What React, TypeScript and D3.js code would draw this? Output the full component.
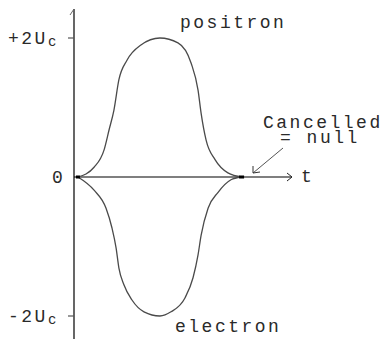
import React from "react";
import * as d3 from "d3";

// time axis in arbitrary units, amplitude in units of Uc
const positronT = [1.8, 9.2, 13.8, 16.1, 18.3, 20.6, 24.3, 30.7, 39.4, 47.7, 53.7, 56.9, 58.3, 60.6, 64.7, 70.6, 77.1];
const positronV = [0, 0.14, 0.39, 0.68, 0.96, 1.4, 1.68, 1.9, 2.0, 1.93, 1.64, 1.25, 0.92, 0.53, 0.25, 0.06, 0];

const electronT = [1.8, 9.2, 14.7, 17.4, 19.3, 20.6, 22.9, 26.6, 32.1, 39.4, 44.5, 50.9, 54.6, 56.9, 58.3, 61.5, 66.1, 72.0, 76.6];
const electronV = [0, -0.19, -0.45, -0.73, -1.02, -1.31, -1.55, -1.77, -1.94, -2.0, -1.94, -1.74, -1.45, -1.12, -0.84, -0.45, -0.22, -0.04, 0];

const yTickValues = [2, 0, -2];
const yTickLabels = ["+2U", "0", "-2U"];
const yTickSubs = ["c", "", "c"];

const seriesNames = ["positron", "electron"];
const nullNote = ["Cancelled", "= null"];

const width = 383;
const height = 339;
const font = "'Liberation Mono', 'DejaVu Sans Mono', monospace";
const fs = 18;
const ls = 2.5; // wider spacing like a thin courier face
const ink = "#2a2a2a";

export default function App() {
  const x = d3.scaleLinear().domain([0, 100]).range([74, 292]);
  const y = d3.scaleLinear().domain([-2, 2]).range([316, 38]);

  const line = d3
    .line<[number, number]>()
    .x(d => x(d[0]))
    .y(d => y(d[1]))
    .curve(d3.curveMonotoneX);

  const pos = positronT.map((t, i) => [t, positronV[i]] as [number, number]);
  const ele = electronT.map((t, i) => [t, electronV[i]] as [number, number]);

  const x0 = x(0);
  const y0 = y(0);
  const xEnd = x(100);
  const last = pos[pos.length - 1];

  return (
    <svg
      width={width}
      height={height}
      style={{ position: "absolute", left: 0, top: 0, background: "#fff" }}
      fontFamily={font}
      fontSize={fs}
      letterSpacing={ls}
    >
      {/* y axis */}
      <line x1={x0} x2={x0} y1={9} y2={height} stroke="#000" strokeWidth={1.2} />
      <line x1={x0} x2={x0 - 4} y1={9} y2={15} stroke="#666" strokeWidth={1} />
      {yTickValues.map((v, i) => (
        <g key={i}>
          {v !== 0 && (
            <line x1={x0 - 6} x2={x0} y1={y(v)} y2={y(v)} stroke="#555" strokeWidth={1.2} />
          )}
          <text x={v === 0 ? 52 : 8} y={y(v) + 6} fill={ink}>
            {yTickLabels[i]}
            {yTickSubs[i] && (
              <tspan fontSize={14} letterSpacing={0} dy={2}>
                {yTickSubs[i]}
              </tspan>
            )}
          </text>
        </g>
      ))}

      {/* x axis */}
      <line x1={x0} x2={xEnd} y1={y0} y2={y0} stroke="#000" strokeWidth={1.2} />
      <path
        d={`M${xEnd - 5},${y0 - 4}L${xEnd},${y0}L${xEnd - 5},${y0 + 4}`}
        fill="none"
        stroke="#222"
        strokeWidth={1}
      />
      <text x={xEnd + 9} y={y0 + 5} fill={ink}>
        t
      </text>

      {/* pulses */}
      <path d={line(pos) || ""} fill="none" stroke="#4a4a4a" strokeWidth={1.3} />
      <path d={line(ele) || ""} fill="none" stroke="#4a4a4a" strokeWidth={1.3} />
      <rect x={x(pos[0][0]) - 2} y={y0 - 1.5} width={4} height={3} fill="#000" />
      <rect x={x(last[0]) - 3} y={y0 - 1.5} width={5} height={3} fill="#000" />

      <text x={180} y={28} fill={ink}>
        {seriesNames[0]}
      </text>
      <text x={175} y={332} fill={ink}>
        {seriesNames[1]}
      </text>

      {/* annotation */}
      <text x={263} y={128} fill={ink}>
        {nullNote[0]}
      </text>
      <text x={280} y={143} fill={ink}>
        {nullNote[1]}
      </text>
      <line x1={283} y1={148} x2={253} y2={173} stroke="#555" strokeWidth={1} />
      <path d="M253,166L253,173L260,172" fill="none" stroke="#333" strokeWidth={1} />
    </svg>
  );
}
